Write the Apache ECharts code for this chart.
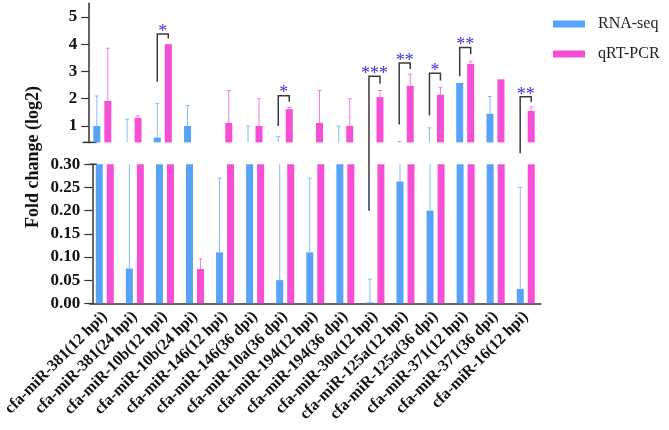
<!DOCTYPE html>
<html>
<head>
<meta charset="utf-8">
<script src="https://cdn.jsdelivr.net/npm/echarts@6/dist/echarts.min.js"></script>
<style>html,body{margin:0;padding:0;background:#fff}#c{width:669px;height:430px}</style>
</head>
<body>
<div id="c"></div>
<script>
// ---- data ----
const categories = ['cfa-miR-381(12 hpi)','cfa-miR-381(24 hpi)','cfa-miR-10b(12 hpi)','cfa-miR-10b(24 hpi)','cfa-miR-146(12 hpi)','cfa-miR-146(36 dpi)','cfa-miR-10a(36 dpi)','cfa-miR-194(12 hpi)','cfa-miR-194(36 dpi)','cfa-miR-30a(12 hpi)','cfa-miR-125a(12 hpi)','cfa-miR-125a(36 dpi)','cfa-miR-371(12 hpi)','cfa-miR-371(36 dpi)','cfa-miR-16(12 hpi)'];
const rnaSeq    = [1.0, 0.075, 0.58, 1.0, 0.11, 0.35, 0.05, 0.11, 0.35, 0.002, 0.263, 0.2, 2.58, 1.45, 0.031];
const rnaSeqErr = [1.1, 1.175, 1.24, 0.75, 0.16, 0.65, 0.57, 0.16, 0.65, 0.05, 0.167, 0.73, 0, 0.63, 0.219];
const qPCR      = [1.92, 1.3, 4.0, 0.074, 1.11, 1.0, 1.62, 1.11, 1.0, 2.06, 2.47, 2.15, 3.28, 2.71, 1.55];
const qPCRErr   = [1.93, 0.07, 0, 0.022, 1.19, 1.0, 0.06, 1.19, 1.0, 0.24, 0.43, 0.27, 0.09, 0, 0.15];
const upperTicks = [1, 2, 3, 4, 5];
// significance brackets (values in upper-axis units unless leftAxis = 1)
const bracketCat      = [2, 6, 9, 10, 11, 12, 14];
const bracketLeftLow  = [2.62, 1.0, 0.2, 1.06, 1.39, 2.82, 0.324];
const bracketLeftAxis = [0, 0, 1, 0, 0, 0, 1];
const bracketTop      = [4.37, 2.11, 2.82, 3.31, 2.93, 3.88, 2.07];
const bracketRightLow = [4.21, 1.89, 2.55, 3.09, 2.67, 3.63, 1.88];
const bracketStars    = ['*', '*', '***', '**', '*', '**', '**'];

// ---- style ----
const FONT = '"Liberation Serif", "Times New Roman", serif';
const BLUE = '#56a3f9', PINK = '#f64fd6';
const BLUE_ERR = '#86bcf8', PINK_ERR = '#f57fdd';
const BAR_W = 7, HALF = 5.5;

const chart = echarts.init(document.getElementById('c'));

function errSeries(grid, vals, errs, color, dx) {
  return {
    type: 'custom', xAxisIndex: grid, yAxisIndex: grid, clip: true, silent: true,
    data: vals.map((v, i) => [i, v, v + errs[i]]),
    renderItem: function (params, api) {
      const lo = api.coord([api.value(0), api.value(1)]);
      const hi = api.coord([api.value(0), api.value(2)]);
      if (api.value(2) <= api.value(1)) return null;
      const x = lo[0] + dx;
      return {
        type: 'group', children: [
          { type: 'line', shape: { x1: x, y1: lo[1], x2: x, y2: hi[1] }, style: { stroke: color, lineWidth: 1 } },
          { type: 'line', shape: { x1: x - 2, y1: hi[1], x2: x + 2, y2: hi[1] }, style: { stroke: color, lineWidth: 1 } }
        ]
      };
    },
    z: 3
  };
}

function bar(grid, name, vals, color) {
  return {
    type: 'bar', name: name, xAxisIndex: grid, yAxisIndex: grid, data: vals,
    barWidth: BAR_W, barGap: '57%', clip: true,
    itemStyle: { color: color }, silent: true
  };
}

const axisLineStyle = { color: '#333', width: 1.5 };

const option = {
  animation: false,
  legend: {
    orient: 'vertical', left: 548, top: 11, itemGap: 14, itemWidth: 32, itemHeight: 7,
    icon: 'rect', data: ['RNA-seq', 'qRT-PCR'],
    textStyle: { fontFamily: FONT, fontSize: 16, color: '#222', padding: [0, 0, 0, 8] }
  },
  grid: [
    { left: 87.2, width: 453.6, top: 3.2, height: 139.2 },
    { left: 87.2, width: 453.6, top: 164.3, height: 139 }
  ],
  xAxis: [
    { type: 'category', gridIndex: 0, data: categories, show: false },
    { type: 'category', gridIndex: 1, data: categories,
      axisLine: { lineStyle: axisLineStyle },
      axisTick: { alignWithLabel: true, length: 8, lineStyle: { color: '#333', width: 1.2 } },
      axisLabel: { rotate: 45, margin: 11, fontFamily: FONT, fontWeight: 'bold', fontSize: 16, color: '#111', interval: 0 } }
  ],
  yAxis: [
    { type: 'value', gridIndex: 0, min: 0.4, max: 5.5, offset: -2,
      splitLine: { show: false },
      axisLine: { show: true, lineStyle: axisLineStyle },
      axisTick: { show: true, length: 8, customValues: upperTicks, lineStyle: { color: '#333', width: 1.2 } },
      axisLabel: { customValues: upperTicks, margin: 12, fontFamily: FONT, fontWeight: 'bold', fontSize: 17, color: '#111' } },
    { type: 'value', gridIndex: 1, min: 0, max: 0.3, interval: 0.05, offset: -2.5,
      splitLine: { show: false },
      axisLine: { show: true, lineStyle: axisLineStyle },
      axisTick: { show: true, length: 8, lineStyle: { color: '#333', width: 1.2 } },
      axisLabel: { margin: 12, fontFamily: FONT, fontWeight: 'bold', fontSize: 17, color: '#111',
        formatter: v => v.toFixed(2) } }
  ],
  series: [
    bar(0, 'RNA-seq', rnaSeq, BLUE), bar(0, 'qRT-PCR', qPCR, PINK),
    bar(1, 'RNA-seq', rnaSeq, BLUE), bar(1, 'qRT-PCR', qPCR, PINK),
    errSeries(0, rnaSeq, rnaSeqErr, BLUE_ERR, -HALF), errSeries(0, qPCR, qPCRErr, PINK_ERR, HALF),
    errSeries(1, rnaSeq, rnaSeqErr, BLUE_ERR, -HALF), errSeries(1, qPCR, qPCRErr, PINK_ERR, HALF)
  ]
};
chart.setOption(option);

// decorations: axis break marks, y title, brackets + stars
const px = (g, c, v) => chart.convertToPixel({ gridIndex: g }, [c, v]);
const graphics = [];
const upAxisX = px(0, 0, 0.4)[0] - 15.12 + 2; // axis line x (grid left + offset)
const upBottom = px(0, 0, 0.4)[1];
const loTop = px(1, 0, 0.3)[1];
graphics.push({ type: 'line', shape: { x1: upAxisX - 6.5, y1: upBottom, x2: upAxisX + 7.5, y2: upBottom }, style: { stroke: '#333', lineWidth: 1.5 } });
graphics.push({ type: 'line', shape: { x1: upAxisX, y1: loTop, x2: upAxisX + 8, y2: loTop }, style: { stroke: '#333', lineWidth: 1.5 } });
graphics.push({ type: 'text', x: 33.5, y: 157, rotation: Math.PI / 2,
  style: { text: 'Fold change (log2)', font: 'bold 18px ' + FONT, fill: '#111', align: 'center', verticalAlign: 'middle' } });

bracketCat.forEach((c, k) => {
  const lx = px(0, c, 0)[0] - HALF;
  const rx = px(0, c, 0)[0] + HALF;
  const ly = px(bracketLeftAxis[k], c, bracketLeftLow[k])[1];
  const ty = px(0, c, bracketTop[k])[1];
  const ry = px(0, c, bracketRightLow[k])[1];
  graphics.push({ type: 'polyline', shape: { points: [[lx, ly], [lx, ty], [rx, ty], [rx, ry]] },
    style: { stroke: '#3a3a3a', lineWidth: 1.5, fill: null }, z: 10 });
  graphics.push({ type: 'text', x: (lx + rx) / 2, y: ty - 2,
    style: { text: bracketStars[k], font: '18px ' + FONT, fill: '#3535dc', align: 'center', verticalAlign: 'middle' }, z: 10 });
});
chart.setOption({ graphic: graphics });
</script>
</body>
</html>
